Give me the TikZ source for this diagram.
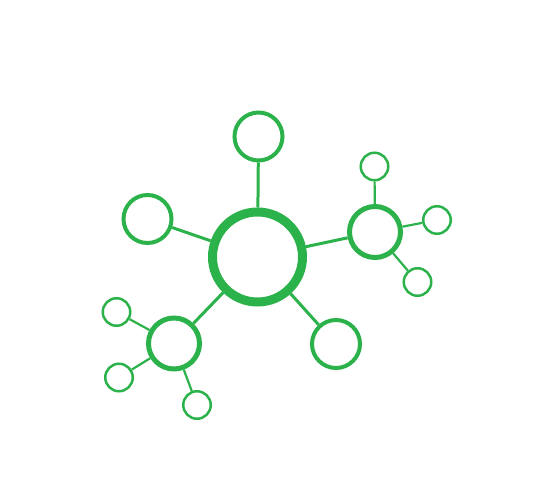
\documentclass[tikz,border=0pt]{standalone}
\usepackage{tikz}

\definecolor{molgreen}{RGB}{44,178,75}

\begin{document}
\begin{tikzpicture}[x=1pt,y=-1pt,
    hub/.style={circle,draw=molgreen,line width=9pt,minimum size=90pt,inner sep=0pt},
    big/.style={circle,draw=molgreen,line width=4pt,minimum size=48pt,inner sep=0pt},
    mid/.style={circle,draw=molgreen,line width=5pt,minimum size=51pt,inner sep=0pt},
    tiny/.style={circle,draw=molgreen,line width=2.5pt,minimum size=27.5pt,inner sep=0pt},
    bond/.style={draw=molgreen,line width=3pt},
    twig/.style={draw=molgreen,line width=2.2pt}]
  \useasboundingbox (0,0) rectangle (536,500);
  % centre and its neighbours
  \node[hub] (c) at (257.5,257) {};
  \node[big] (t) at (258.5,136.5) {};
  \node[big] (l) at (147.5,219) {};
  \node[big] (br) at (336,344) {};
  \node[mid] (r) at (375,232) {};
  \node[mid] (bl) at (174,343.5) {};
  % small ones
  \node[tiny] (r1) at (374.5,166.5) {};
  \node[tiny] (r2) at (437,220) {};
  \node[tiny] (r3) at (417.5,282) {};
  \node[tiny] (b1) at (116.5,312) {};
  \node[tiny] (b2) at (119,377.5) {};
  \node[tiny] (b3) at (197,405) {};
  % bonds
  \draw[bond] (c) -- (t);
  \draw[bond] (c) -- (l);
  \draw[bond] (c) -- (br);
  \draw[bond] (c) -- (r);
  \draw[bond] (c) -- (bl);
  \draw[twig] (r) -- (r1);
  \draw[twig] (r) -- (r2);
  \draw[twig] (r) -- (r3);
  \draw[twig] (bl) -- (b1);
  \draw[twig] (bl) -- (b2);
  \draw[twig] (bl) -- (b3);
\end{tikzpicture}
\end{document}
